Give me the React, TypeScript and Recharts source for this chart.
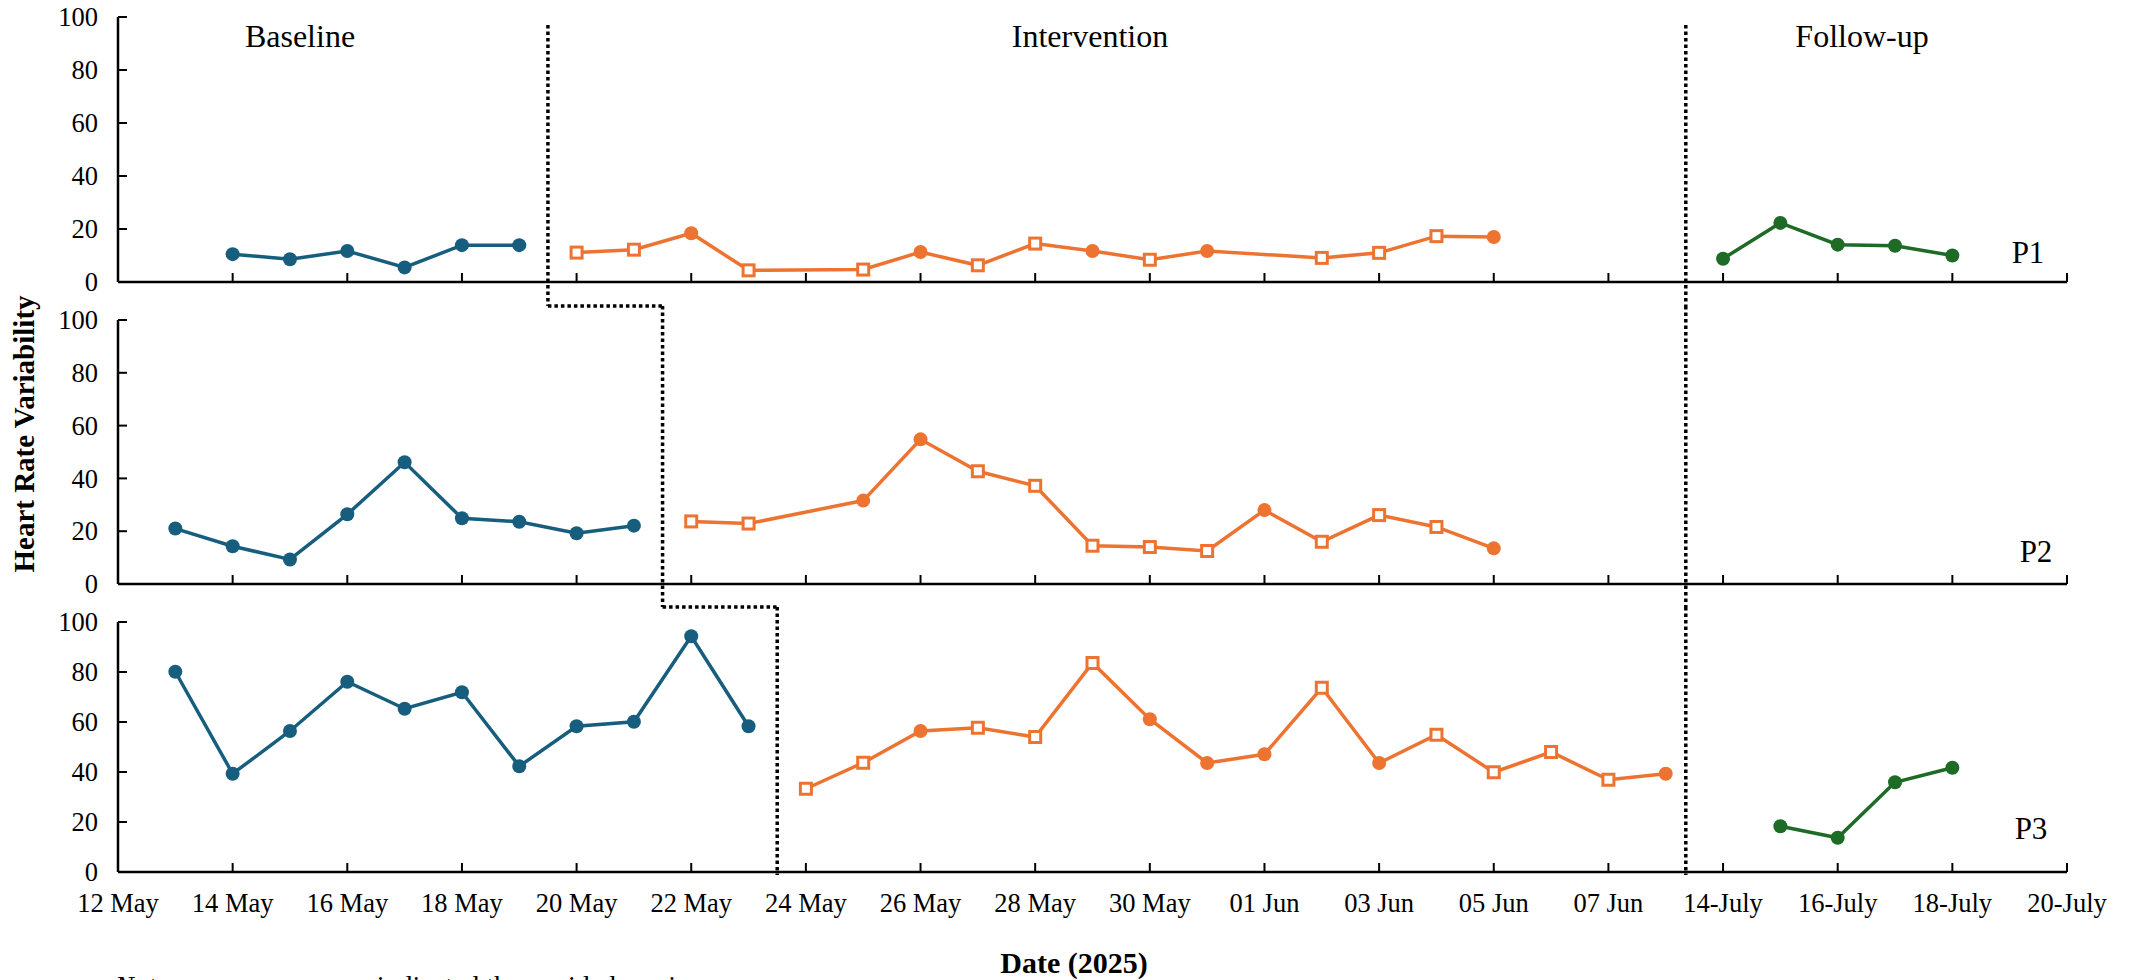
import React from 'react';
import { LineChart, Line, XAxis, YAxis, ReferenceLine } from 'recharts';

const BLUE = '#175E7E';
const ORANGE = '#ED7331';
const GREEN = '#1D6B26';
const FONT = '"Liberation Serif", "Times New Roman", serif';

// x is a day index: 0 = 12 May ... 27 = 08 Jun, then 28 = 14 July ... 34 = 20 July
const tickDays = [0, 2, 4, 6, 8, 10, 12, 14, 16, 18, 20, 22, 24, 26, 28, 30, 32, 34];
const tickLabels = [
  '12 May', '14 May', '16 May', '18 May', '20 May', '22 May', '24 May', '26 May', '28 May',
  '30 May', '01 Jun', '03 Jun', '05 Jun', '07 Jun', '14-July', '16-July', '18-July', '20-July',
];
const yTicks = [0, 20, 40, 60, 80, 100];

const phaseNames = ['Baseline', 'Intervention', 'Follow-up'];
const participants = ['P1', 'P2', 'P3'];

// phase change positions (day index)
const baselineCut = [7.5, 9.5, 11.5];
const followCut = 27.35;

// P1
const p1BaseDays = [2, 3, 4, 5, 6, 7];
const p1BaseVals = [10.5, 8.6, 11.7, 5.5, 13.9, 13.9];
const p1IntDays = [8, 9, 10, 11, 13, 14, 15, 16, 17, 18, 19, 21, 22, 23, 24];
const p1IntVals = [11.1, 12.2, 18.4, 4.4, 4.7, 11.3, 6.3, 14.5, 11.7, 8.4, 11.7, 9.1, 11.0, 17.3, 17.0];
const p1IntMarks = ['s', 's', 'c', 's', 's', 'c', 's', 's', 'c', 's', 'c', 's', 's', 's', 'c'];
const p1FollowDays = [28, 29, 30, 31, 32];
const p1FollowVals = [8.8, 22.3, 14.1, 13.7, 10.0];

// P2
const p2BaseDays = [1, 2, 3, 4, 5, 6, 7, 8, 9];
const p2BaseVals = [21.0, 14.3, 9.3, 26.4, 46.1, 24.9, 23.6, 19.2, 22.1];
const p2IntDays = [10, 11, 13, 14, 15, 16, 17, 18, 19, 20, 21, 22, 23, 24];
const p2IntVals = [23.7, 22.9, 31.6, 54.8, 42.7, 37.2, 14.5, 14.0, 12.5, 28.0, 16.0, 26.1, 21.6, 13.5];
const p2IntMarks = ['s', 's', 'c', 'c', 's', 's', 's', 's', 's', 'c', 's', 's', 's', 'c'];

// P3
const p3BaseDays = [1, 2, 3, 4, 5, 6, 7, 8, 9, 10, 11];
const p3BaseVals = [80.1, 39.3, 56.4, 76.1, 65.3, 71.9, 42.3, 58.3, 60.1, 94.3, 58.3];
const p3IntDays = [12, 13, 14, 15, 16, 17, 18, 19, 20, 21, 22, 23, 24, 25, 26, 27];
const p3IntVals = [33.3, 43.7, 56.4, 57.7, 54.0, 83.6, 61.1, 43.6, 47.1, 73.7, 43.6, 54.9, 39.9, 48.0, 36.9, 39.3];
const p3IntMarks = ['s', 's', 'c', 's', 's', 's', 'c', 'c', 'c', 's', 'c', 's', 's', 's', 's', 'c'];
const p3FollowDays = [29, 30, 31, 32];
const p3FollowVals = [18.3, 13.7, 35.9, 41.7];

type Pt = { day: number; hrv: number; mark: string };
const toPoints = (days: number[], vals: number[], marks?: string[]): Pt[] =>
  days.map((d, i) => ({ day: d, hrv: vals[i], mark: marks ? marks[i] : 'c' }));

const seriesByPanel = [
  [
    { color: BLUE, data: toPoints(p1BaseDays, p1BaseVals) },
    { color: ORANGE, data: toPoints(p1IntDays, p1IntVals, p1IntMarks) },
    { color: GREEN, data: toPoints(p1FollowDays, p1FollowVals) },
  ],
  [
    { color: BLUE, data: toPoints(p2BaseDays, p2BaseVals) },
    { color: ORANGE, data: toPoints(p2IntDays, p2IntVals, p2IntMarks) },
  ],
  [
    { color: BLUE, data: toPoints(p3BaseDays, p3BaseVals) },
    { color: ORANGE, data: toPoints(p3IntDays, p3IntVals, p3IntMarks) },
    { color: GREEN, data: toPoints(p3FollowDays, p3FollowVals) },
  ],
];

// plot area (px) and how far the dotted phase lines reach above/below (in y units)
const panels = [
  { top: 17, bottom: 282, lineTop: 97, lineBottom: -9.1 },
  { top: 320, bottom: 584, lineTop: 105.3, lineBottom: -8.7 },
  { top: 622, bottom: 872, lineTop: 106, lineBottom: -1.2 },
];

const W = 2132;
const H = 980;
const PLOT_LEFT = 118;
const PLOT_RIGHT = 2067;
const Y_AXIS_W = 60;
const X_AXIS_H = 30;

const makeDot = (color: string) => (props: any) => {
  const { cx, cy, payload, index } = props;
  if (cx == null || cy == null) return <g key={index} />;
  if (payload.mark === 's') {
    return <rect key={index} x={cx - 5.5} y={cy - 5.5} width={11} height={11} fill="#fff" stroke={color} strokeWidth={3} />;
  }
  return <circle key={index} cx={cx} cy={cy} r={7} fill={color} stroke="none" />;
};

const XTick = (props: any) => {
  const { x, y, payload, showLabel } = props;
  const label = tickLabels[tickDays.indexOf(payload.value)];
  return (
    <g>
      <line x1={x} x2={x} y1={y} y2={y - 9} stroke="#000" strokeWidth={2} />
      {showLabel && (
        <text x={x} y={y + 40} textAnchor="middle" fontSize={26.5} fontFamily={FONT} fill="#000">
          {label}
        </text>
      )}
    </g>
  );
};

const YTick = (props: any) => {
  const { x, y, payload } = props;
  return (
    <g>
      <line x1={x} x2={x + 9} y1={y} y2={y} stroke="#000" strokeWidth={2} />
      <text x={x - 20} y={y} dy="0.35em" textAnchor="end" fontSize={26.5} fontFamily={FONT} fill="#000">
        {payload.value}
      </text>
    </g>
  );
};

const dotted = { stroke: '#000', strokeWidth: 3.5, strokeDasharray: '3.5 3' };

const Panel = ({ idx }: { idx: number }) => {
  const p = panels[idx];
  const cut = baselineCut[idx];
  const nextCut = baselineCut[idx + 1];
  return (
    <div style={{ position: 'absolute', left: 0, top: 0 }}>
      <LineChart
        width={W}
        height={H}
        margin={{ top: p.top, right: W - PLOT_RIGHT, bottom: H - p.bottom - X_AXIS_H, left: PLOT_LEFT - Y_AXIS_W }}
      >
        <XAxis
          type="number"
          dataKey="day"
          domain={[0, 34]}
          ticks={tickDays}
          interval={0}
          height={X_AXIS_H}
          tickSize={0}
          tickMargin={0}
          axisLine={{ stroke: '#000', strokeWidth: 2.5 }}
          tick={<XTick showLabel={idx === 2} />}
          allowDataOverflow
        />
        <YAxis
          type="number"
          domain={[0, 100]}
          ticks={yTicks}
          interval={0}
          width={Y_AXIS_W}
          tickSize={0}
          tickMargin={0}
          axisLine={{ stroke: '#000', strokeWidth: 2.5 }}
          tick={<YTick />}
          allowDataOverflow
        />
        <ReferenceLine
          ifOverflow="visible"
          segment={[{ x: cut, y: p.lineTop }, { x: cut, y: p.lineBottom }]}
          {...dotted}
        />
        {nextCut !== undefined && (
          <ReferenceLine
            ifOverflow="visible"
            segment={[{ x: cut, y: p.lineBottom }, { x: nextCut, y: p.lineBottom }]}
            {...dotted}
          />
        )}
        <ReferenceLine
          ifOverflow="visible"
          segment={[{ x: followCut, y: p.lineTop }, { x: followCut, y: p.lineBottom }]}
          {...dotted}
        />
        {seriesByPanel[idx].map((s, i) => (
          <Line
            key={i}
            data={s.data}
            dataKey="hrv"
            type="linear"
            stroke={s.color}
            strokeWidth={3.5}
            dot={makeDot(s.color)}
            activeDot={false}
            isAnimationActive={false}
          />
        ))}
      </LineChart>
    </div>
  );
};

const App: React.FC = () => {
  return (
    <div style={{ position: 'absolute', left: 0, top: 0, width: W, height: H, overflow: 'hidden', background: '#fff' }}>
      {panels.map((_, i) => (
        <Panel key={i} idx={i} />
      ))}
      <svg width={W} height={H} style={{ position: 'absolute', left: 0, top: 0, pointerEvents: 'none' }}>
        <g fontFamily={FONT} fill="#000">
          <text x={300} y={47} fontSize={32} textAnchor="middle">{phaseNames[0]}</text>
          <text x={1090} y={47} fontSize={32} textAnchor="middle">{phaseNames[1]}</text>
          <text x={1862} y={47} fontSize={32} textAnchor="middle">{phaseNames[2]}</text>
          <text x={2028} y={263} fontSize={31} textAnchor="middle">{participants[0]}</text>
          <text x={2036} y={562} fontSize={31} textAnchor="middle">{participants[1]}</text>
          <text x={2031} y={839} fontSize={31} textAnchor="middle">{participants[2]}</text>
          <text transform="translate(34, 434) rotate(-90)" fontSize={29} fontWeight="bold" textAnchor="middle">
            Heart Rate Variability
          </text>
          <text x={1074} y={973} fontSize={30} fontWeight="bold" textAnchor="middle">Date (2025)</text>
          <text x={115} y={995} fontSize={28}>
            <tspan fontStyle="italic">Note.</tspan>
            <tspan> ○ or an orange </tspan>
            <tspan fill="#1a3c4f">■</tspan>
            <tspan> indicated the unaided session.</tspan>
          </text>
        </g>
      </svg>
    </div>
  );
};

export default App;
